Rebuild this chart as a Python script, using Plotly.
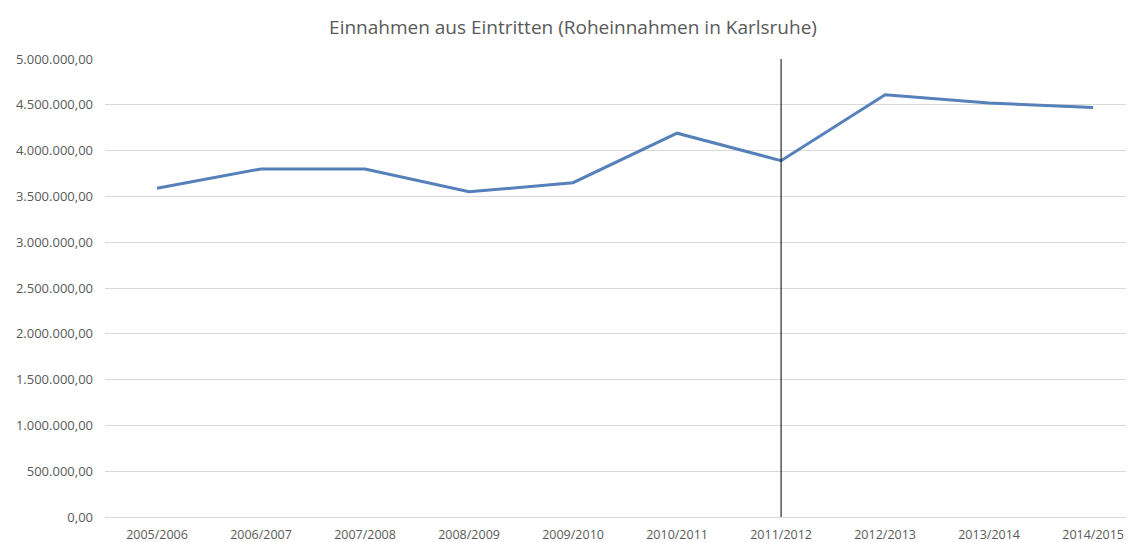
import plotly.graph_objects as go

seasons = ["2005/2006", "2006/2007", "2007/2008", "2008/2009", "2009/2010",
           "2010/2011", "2011/2012", "2012/2013", "2013/2014", "2014/2015"]
revenue = [3590000, 3800000, 3800000, 3550000, 3650000,
           4190000, 3890000, 4610000, 4520000, 4470000]
marker_season = "2011/2012"
y_ticks = [0, 500000, 1000000, 1500000, 2000000, 2500000,
           3000000, 3500000, 4000000, 4500000, 5000000]
y_max = 5000000

def de_fmt(v):
    s = f"{v:,.2f}"
    return s.replace(",", "X").replace(".", ",").replace("X", ".")

fig = go.Figure()
fig.add_trace(go.Scatter(
    x=seasons, y=revenue, mode="lines",
    line=dict(color="#5580B9", width=3),
    hoverinfo="x+y",
))
fig.add_shape(type="line", xref="x", yref="y",
              x0=marker_season, x1=marker_season, y0=0, y1=y_max,
              line=dict(color="#000000", width=1))

# the page body adds an 8px offset; margins compensate for it
font_family = "Open Sans, DejaVu Sans, sans-serif"
fig.update_layout(
    width=1134, height=542,
    margin=dict(l=97, r=0, t=51, b=33, autoexpand=False),
    paper_bgcolor="white", plot_bgcolor="white",
    title=dict(text="Einnahmen aus Eintritten (Roheinnahmen in Karlsruhe)",
               x=565 / 1134, xanchor="center", y=0.964, yanchor="middle",
               font=dict(family=font_family, size=19, color="#595959")),
    showlegend=False,
    font=dict(family=font_family, size=12, color="#595959"),
)
fig.update_xaxes(
    type="category", range=[-0.5, 9.47], automargin=False,
    showgrid=False, showline=False, zeroline=False,
    ticks="", ticklabelstandoff=8,
    tickfont=dict(size=12.5, color="#595959"),
)
fig.update_yaxes(
    range=[0, y_max], tickvals=y_ticks, automargin=False,
    ticktext=[de_fmt(v) for v in y_ticks],
    showgrid=True, gridcolor="#D9D9D9", gridwidth=1,
    zeroline=True, zerolinecolor="#D9D9D9", zerolinewidth=1,
    showline=False, ticks="", ticklabelstandoff=11,
    tickfont=dict(size=13, color="#595959"),
)
fig.write_html("out.html")
